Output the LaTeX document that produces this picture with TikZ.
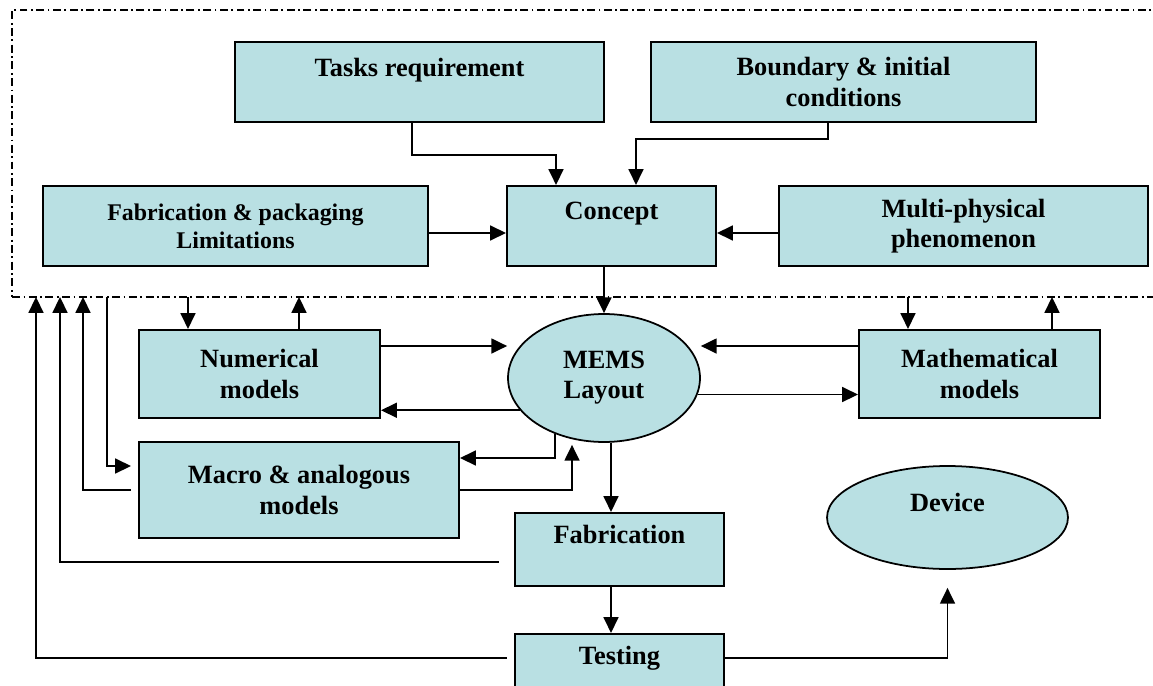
\documentclass[tikz,border=0pt]{standalone}
\usepackage{fontspec}
\setmainfont{Liberation Serif}
\usetikzlibrary{arrows.meta,shapes.geometric}
\definecolor{boxfill}{RGB}{185,224,227}
\tikzset{
  box/.style={draw, line width=1.2pt, fill=boxfill, inner sep=0pt, align=center,
    font=\bfseries\fontsize{15}{17.2}\selectfont},
  oval/.style={ellipse, draw, line width=1pt, fill=boxfill, inner sep=0pt, align=center,
    font=\bfseries\fontsize{15}{17.2}\selectfont},
  loopframe/.style={draw, line width=0.9pt, dash pattern=on 4.5pt off 2pt on 1pt off 2pt, inner sep=0pt},
  arr/.style={line width=1pt, -{Triangle[length=9pt,width=8.5pt]}},
}
\begin{document}
\begin{tikzpicture}[x=0.02cm, y=-0.02cm]
    \useasboundingbox (0,0) rectangle (1153,686);
    % design loop (open to the right)
    \node[loopframe, minimum width=23.16cm, minimum height=5.74cm] (design) at (591,153.5) {};

    % inputs and concept
    \node[box, minimum width=7.38cm, minimum height=1.6cm] (tasks) at (419.5,82) {Tasks requirement\\\mbox{}};
    \node[box, minimum width=7.7cm, minimum height=1.6cm] (bound) at (843.5,82) {Boundary \& initial\\conditions};
    \node[box, minimum width=7.7cm, minimum height=1.6cm, font=\bfseries\fontsize{13.6}{15.9}\selectfont] (fabpack) at (235.5,226) {Fabrication \& packaging\\Limitations};
    \node[box, minimum width=4.18cm, minimum height=1.6cm] (concept) at (611.5,226) {Concept\\\mbox{}};
    \node[box, minimum width=7.38cm, minimum height=1.6cm] (multi) at (963.5,226) {Multi-physical\\phenomenon};

    % models and layout
    \node[box, minimum width=4.82cm, minimum height=1.76cm] (numer) at (259.5,374) {Numerical\\models};
    \node[box, minimum width=4.82cm, minimum height=1.76cm] (math) at (979.5,374) {Mathematical\\models};
    \node[oval, minimum width=3.84cm, minimum height=2.56cm] (mems) at (604,378) {MEMS\\Layout};
    \node[box, minimum width=6.4cm, minimum height=1.92cm] (macro) at (299,490) {Macro \& analogous\\models};

    % production
    \node[box, minimum width=4.18cm, minimum height=1.46cm] (fabr) at (619.5,549.5) {Fabrication\\\mbox{}};
    \node[box, minimum width=4.18cm, minimum height=1.46cm] (test) at (619.5,670.5) {Testing\\\mbox{}};
    \node[oval, minimum width=4.82cm, minimum height=2.06cm] (device) at (947.5,517.5) {Device\\\mbox{}};

    % taps on the design loop
    \coordinate (f1) at (36,297);
    \coordinate (f2) at (60,297);
    \coordinate (f3) at (83,297);
    \coordinate (f4) at (107,297);
    \coordinate (n1) at (188,297);
    \coordinate (n2) at (299,297);
    \coordinate (m1) at (908,297);
    \coordinate (m2) at (1052,297);
    \coordinate (numOut) at ([yshift=0.56cm]numer.east);
    \coordinate (mathOut) at ([yshift=0.56cm]math.west);

    % into the concept
    \draw[arr] ([xshift=-0.15cm]tasks.south) -- ++(0,32) -| ([xshift=-1.11cm]concept.north);
    \draw[arr] ([xshift=-0.31cm]bound.south) -- ++(0,16) -| ([xshift=0.49cm]concept.north);
    \draw[arr] ([yshift=-0.14cm]fabpack.east) -- ([yshift=-0.14cm]concept.west);
    \draw[arr] ([yshift=-0.14cm]multi.west) -- ([yshift=-0.14cm]concept.east);
    \draw[arr] ([xshift=-0.15cm]concept.south) -- (mems.north);

    % layout and models
    \draw[arr] (numOut) -- (numOut -| mems.west);
    \draw[arr] (mems.201) -- (mems.201 -| numer.east);
    \draw[arr] (mathOut) -- (mathOut -| mems.east);
    \draw[arr] (mems.-10) -- (mems.-10 -| math.west);
    \draw[arr] (mems.229) |- ([yshift=0.64cm]macro.east);
    \draw[arr] (macro.east) -| ([xshift=-0.64cm,yshift=-0.04cm]mems.south);

    % production chain
    \draw[arr] ([xshift=0.14cm]mems.south) -- ([xshift=-0.17cm]fabr.north);
    \draw[arr] ([xshift=-0.17cm]fabr.south) -- ([xshift=-0.17cm]test.north);
    \draw[arr] ([yshift=0.25cm]test.east) -| ([yshift=-0.36cm]device.south);

    % feedback to the design loop
    \draw[arr] ([xshift=-0.14cm,yshift=0.25cm]test.west) -| (f1);
    \draw[arr] ([xshift=-0.3cm,yshift=-0.25cm]fabr.west) -| (f2);
    \draw[arr] ([xshift=-0.14cm]macro.west) -| (f3);
    \draw[arr] (f4) |- ([xshift=-0.14cm,yshift=0.48cm]macro.west);
    \draw[arr] (n1) -- (n1 |- numer.north);
    \draw[arr] (n2 |- numer.north) -- (n2);
    \draw[arr] (m1) -- (m1 |- math.north);
    \draw[arr] (m2 |- math.north) -- (m2);
\end{tikzpicture}
\end{document}
